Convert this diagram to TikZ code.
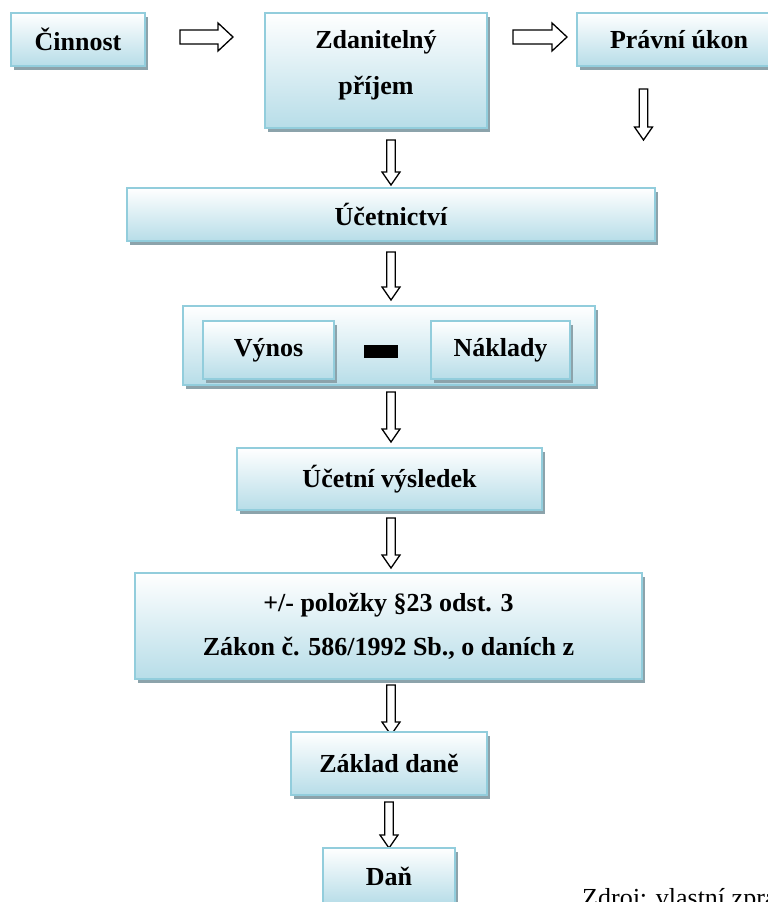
\documentclass[tikz,border=0pt]{standalone}
\usepackage{fontspec}
\setmainfont{Liberation Serif}
\usetikzlibrary{shadows}
\definecolor{rimblue}{RGB}{146,205,220}
\definecolor{fillblue}{RGB}{183,221,232}
\definecolor{shadowgray}{RGB}{140,163,171}
\tikzset{fbox/.style={draw=rimblue, line width=1.6pt, top color=white, bottom color=fillblue,
  inner sep=0pt, align=center, font=\bfseries\fontsize{26}{31}\selectfont,
  drop shadow={shadow xshift=3pt, shadow yshift=-4pt, fill=shadowgray, opacity=1}}}
\tikzset{blockarr/.style={draw=black, line width=1.3pt, fill=white, line join=miter}}
\newcommand{\downarr}[3]{% x, top y, length
  \draw[blockarr] ({#1-4.2},{#2}) -- ({#1+4.2},{#2}) -- ({#1+4.2},{#2+#3-13})
    -- ({#1+9},{#2+#3-13}) -- ({#1},{#2+#3}) -- ({#1-9},{#2+#3-13})
    -- ({#1-4.2},{#2+#3-13}) -- cycle;}
\newcommand{\rightarr}[3]{% left x, y, length
  \draw[blockarr] ({#1},{#2-7}) -- ({#1+#3-15},{#2-7}) -- ({#1+#3-15},{#2-14})
    -- ({#1+#3},{#2}) -- ({#1+#3-15},{#2+14}) -- ({#1+#3-15},{#2+7})
    -- ({#1},{#2+7}) -- cycle;}
\begin{document}
\begin{tikzpicture}[x=1pt, y=-1pt]
\useasboundingbox (0,0) rectangle (768,902);
\clip (0,0) rectangle (768,902);

% top row
\node[fbox, minimum width=134, minimum height=53] (cin) at (78,39.5) {Činnost};
\node[fbox, minimum width=222, minimum height=115, text depth=17pt] (zdp) at (376,70.5)
  {Zdanitelný\\[15pt]příjem};
\node[fbox, minimum width=204, minimum height=53] (pravni) at (679,39.5) {Právní úkon};
\rightarr{180}{37}{53}
\rightarr{513}{37}{54}
\downarr{643.5}{89}{51}

% main column
\downarr{391}{140}{45}
\node[fbox, minimum width=528, minimum height=53] (ucet) at (391,214.5) {Účetnictví};
\downarr{391}{252}{48}

\node[fbox, minimum width=412, minimum height=79] (rozdil) at (389,345.5) {};
\node[fbox, minimum width=131, minimum height=58] (vynos) at (268.5,350) {Výnos};
\node[fbox, minimum width=139, minimum height=58] (naklady) at (500.5,350) {Náklady};
\node[fill=black, inner sep=0pt, minimum width=34, minimum height=13] (minus) at (381,351.5) {};
\downarr{391}{392}{50}

\node[fbox, minimum width=305, minimum height=62] (vysl) at (389.5,479) {Účetní výsledek};
\downarr{391}{518}{50}

\node[fbox, minimum width=507, minimum height=106] (polozky) at (388.5,626)
  {+/- položky §23 odst. 3\\[13pt]Zákon č. 586/1992 Sb., o daních z};
\downarr{391}{685}{50}

\node[fbox, minimum width=196, minimum height=63] (zaklad) at (389,763.5) {Základ daně};
\downarr{389}{802}{46}

\node[fbox, minimum width=132, minimum height=56] (dan) at (389,876) {Daň};

\node[anchor=base west, inner sep=0pt, font=\fontsize{26}{31}\selectfont] (zdroj) at (582,906)
  {Zdroj: vlastní zpracování};
\end{tikzpicture}
\end{document}
